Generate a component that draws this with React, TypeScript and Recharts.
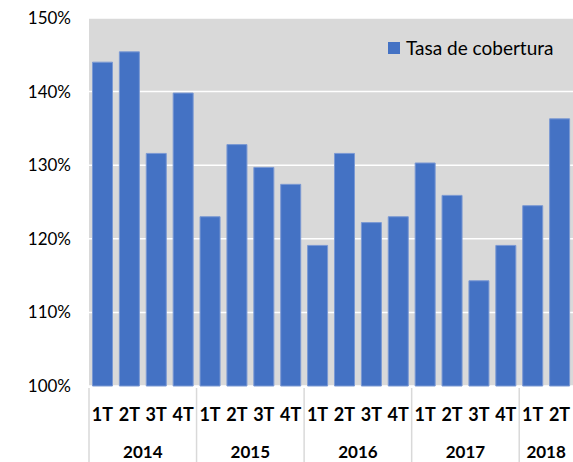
import { BarChart, Bar, XAxis, YAxis, CartesianGrid, Legend } from "recharts";

const quarters = ["1T", "2T", "3T", "4T", "1T", "2T", "3T", "4T", "1T", "2T", "3T", "4T", "1T", "2T", "3T", "4T", "1T", "2T"];
const years = ["2014", "2014", "2014", "2014", "2015", "2015", "2015", "2015", "2016", "2016", "2016", "2016", "2017", "2017", "2017", "2017", "2018", "2018"];
const cobertura = [144.0, 145.4, 131.6, 139.8, 123.0, 132.8, 129.7, 127.4, 119.1, 131.6, 122.2, 123.0, 130.3, 125.9, 114.3, 119.1, 124.5, 136.3];
const yTicks = [100, 110, 120, 130, 140, 150];

const data = quarters.map((q, i) => ({ id: `${years[i]}-${q}`, q, year: years[i], value: cobertura[i] }));

const W = 573;
const H = 462;
const LEFT = 89;
const BAND = (W - LEFT) / data.length;
const FONT = "Lato, 'Liberation Sans', sans-serif";

const QuarterTick = (props: any) => {
  const { x, y, payload } = props;
  const d = data[payload.index];
  return (
    <text x={x} y={y + 33} textAnchor="middle" fontFamily={FONT} fontSize={18} fontWeight="bold" fill="#000">
      {d ? d.q : ""}
    </text>
  );
};

const YearTick = (props: any) => {
  const { x, y, payload } = props;
  const i = payload.index;
  if (i > 0 && years[i - 1] === years[i]) return null;
  const size = years.filter((yy) => yy === years[i]).length;
  return (
    <g>
      <line x1={x - BAND / 2} x2={x - BAND / 2} y1={y - 40} y2={H} stroke="#d9d9d9" strokeWidth={1.5} />
      <text x={x + ((size - 1) * BAND) / 2} y={y + 30} textAnchor="middle" fontFamily={FONT} fontSize={17} fontWeight="bold" fill="#000">
        {years[i]}
      </text>
    </g>
  );
};

const LegendBox = () => (
  <div style={{ display: "flex", alignItems: "center", fontFamily: FONT, fontSize: 19, color: "#000" }}>
    <span style={{ display: "inline-block", width: 12, height: 12, background: "#4472c4", marginRight: 6 }} />
    Tasa de cobertura
  </div>
);

export default function App() {
  return (
    <div style={{ position: "absolute", left: 0, top: 0, background: "#fff" }}>
      <BarChart width={W} height={H} data={data} margin={{ top: 18, right: 0, left: 0, bottom: 0 }} barCategoryGap="13%">
        <CartesianGrid vertical={false} stroke="#ffffff" strokeWidth={1.5} fill="#d9d9d9" />
        <XAxis dataKey="id" height={40} tick={<QuarterTick />} tickLine={false} axisLine={false} tickSize={0} interval={0} />
        <XAxis dataKey="id" xAxisId="year" height={36} tick={<YearTick />} tickLine={false} axisLine={false} tickSize={0} interval={0} />
        <YAxis
          width={LEFT}
          domain={[100, 150]}
          ticks={yTicks}
          tickFormatter={(v: number) => `${v}%`}
          tick={{ fill: "#000", fontSize: 17, fontFamily: FONT }}
          tickLine={false}
          axisLine={false}
          tickSize={0}
          tickMargin={18}
        />
        <Legend
          layout="horizontal"
          verticalAlign="middle"
          align="center"
          content={<LegendBox />}
          wrapperStyle={{ position: "absolute", top: 36, left: 388, width: 185 }}
        />
        <Bar dataKey="value" fill="#4472c4" stroke="#7b99d3" strokeWidth={1} isAnimationActive={false} />
      </BarChart>
    </div>
  );
}
